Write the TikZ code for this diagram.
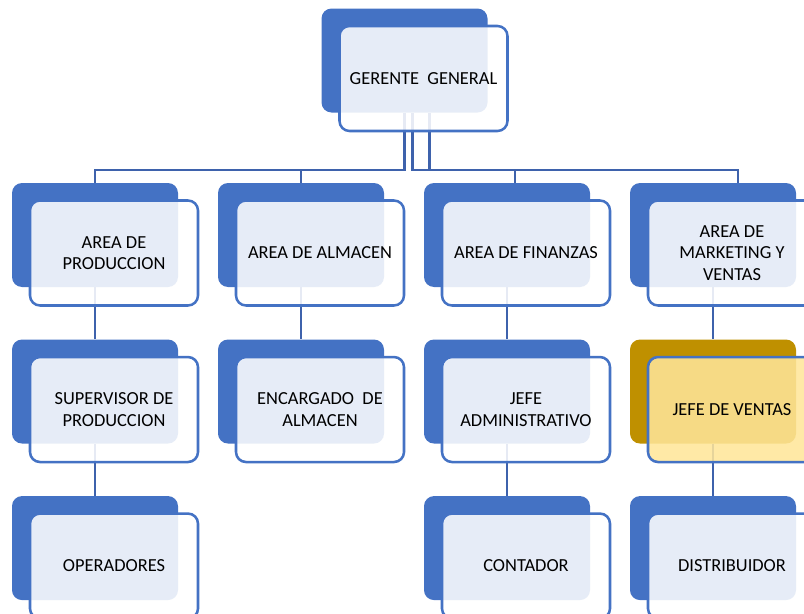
\documentclass[tikz,border=0pt]{standalone}
\usepackage{fontspec}
\setmainfont{Carlito}
\usetikzlibrary{positioning, calc}

\begin{document}
\begin{tikzpicture}[
    x=0.75pt, y=-0.75pt,
    node distance=39pt and 29.6pt,
    backbox/.style={fill=boxblue, rounded corners=7.5pt, minimum width=124.5pt, minimum height=78pt, inner sep=0pt},
    frontbox/.style={draw=boxblue, line width=1.9pt, fill=white, fill opacity=0.87, text opacity=1, rounded corners=7.5pt, minimum width=126pt, minimum height=78.75pt, inner sep=0pt, align=center, font=\fontsize{13.8}{16}\selectfont, xshift=14.25pt, yshift=-13.5pt},
    link/.style={draw=linkblue, line width=1.6pt}
]

    % Define colors
    \definecolor{boxblue}{RGB}{68, 114, 196}
    \definecolor{linkblue}{RGB}{62, 98, 172}
    \definecolor{gold}{RGB}{191, 144, 0}
    \definecolor{paleyellow}{RGB}{255, 230, 153}

    \clip (0,0) rectangle (804,614);

    % Back boxes
    \node[backbox] (bGer) at (404.5,60.5) {};
    \node[backbox] (bProd) at (95,235) {};
    \node[backbox, right=of bProd] (bAlm) {};
    \node[backbox, right=of bAlm] (bFin) {};
    \node[backbox, right=of bFin] (bMkt) {};
    \node[backbox, below=of bProd] (bSup) {};
    \node[backbox, below=of bAlm] (bEnc) {};
    \node[backbox, below=of bFin] (bJefe) {};
    \node[backbox, below=of bMkt, fill=gold] (bVen) {};
    \node[backbox, below=of bSup] (bOpe) {};
    \node[backbox, below=of bJefe] (bCon) {};
    \node[backbox, below=of bVen] (bDis) {};

    % Connectors from the manager to the areas
    \foreach \a/\s in {bProd/0, bAlm/0, bFin/8, bMkt/25} {
        \draw[link] ($(bGer.south)+(\s,0)$) -- ($(bGer.south)+(\s,57)$) -| ($(\a.north)+(\s,0)$);
    }
    % Connectors inside each area
    \foreach \u/\v in {bProd/bSup, bSup/bOpe, bAlm/bEnc, bFin/bJefe, bJefe/bCon, bMkt/bVen, bVen/bDis} {
        \draw[link] (\u.south) -- (\v.north);
    }

    % Front boxes with the texts
    \node[frontbox] (fGer) at (bGer) {GERENTE~ GENERAL};
    \node[frontbox] (fProd) at (bProd) {AREA DE\\PRODUCCION};
    \node[frontbox] (fAlm) at (bAlm) {AREA DE ALMACEN};
    \node[frontbox] (fFin) at (bFin) {AREA DE FINANZAS};
    \node[frontbox] (fMkt) at (bMkt) {AREA DE\\MARKETING Y\\VENTAS};
    \node[frontbox] (fSup) at (bSup) {SUPERVISOR DE\\PRODUCCION};
    \node[frontbox] (fEnc) at (bEnc) {ENCARGADO~ DE\\ALMACEN};
    \node[frontbox] (fJefe) at (bJefe) {JEFE\\ADMINISTRATIVO};
    \node[frontbox, fill=paleyellow] (fVen) at (bVen) {JEFE DE VENTAS};
    \node[frontbox] (fOpe) at (bOpe) {OPERADORES};
    \node[frontbox] (fCon) at (bCon) {CONTADOR};
    \node[frontbox] (fDis) at (bDis) {DISTRIBUIDOR};

\end{tikzpicture}
\end{document}
